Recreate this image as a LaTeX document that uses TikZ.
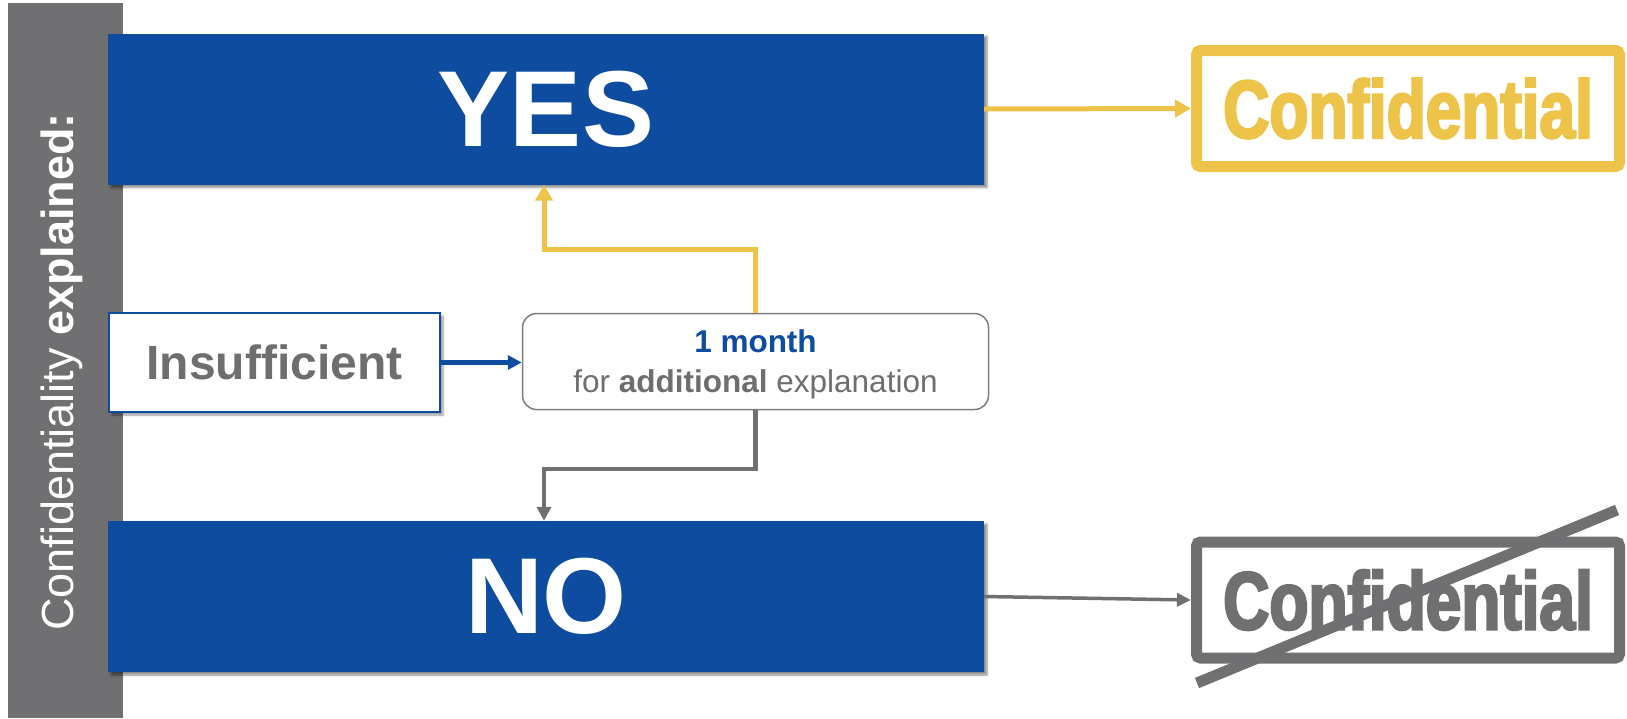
\documentclass[tikz,border=0pt]{standalone}
\usepackage{fontspec}
\usepackage{graphicx}
\setmainfont{Liberation Sans}
\newfontfamily\stampfont{Liberation Sans}[FakeStretch=0.78, BoldFeatures={FakeBold=3}]
\usetikzlibrary{arrows.meta,shadows.blur}
\definecolor{cblue}{RGB}{13,76,159}
\definecolor{cyellow}{RGB}{237,195,74}
\definecolor{cgray}{RGB}{112,112,114}
\definecolor{tgray}{RGB}{110,110,112}
\definecolor{lgray}{RGB}{125,125,128}
\begin{document}
\begin{tikzpicture}[x=1pt,y=-1pt,
  bluebox/.style={fill=cblue, draw=none, minimum width=876pt, minimum height=151pt, inner sep=0pt,
    text=white, font=\fontsize{108}{108}\selectfont\bfseries,
    blur shadow={shadow xshift=3pt, shadow yshift=-3pt, shadow blur steps=6, shadow opacity=45}},
  insbox/.style={fill=white, draw=cblue, line width=2pt, minimum width=331pt, minimum height=99pt, inner sep=0pt,
    text=tgray, font=\fontsize{48}{48}\selectfont\bfseries,
    blur shadow={shadow xshift=3pt, shadow yshift=-3pt, shadow blur steps=6, shadow opacity=40}},
  midbox/.style={fill=white, draw=lgray, line width=1.5pt, rounded corners=14pt, minimum width=466pt, minimum height=96pt,
    inner sep=0pt, align=center, text=tgray, font=\fontsize{31.5}{40}\selectfont},
  stamp/.style={line width=11pt, rounded corners=4pt, minimum width=423pt, minimum height=116pt, inner sep=0pt,
    font=\stampfont\bfseries\fontsize{82}{82}\selectfont},
  yarrow/.style={draw=cyellow, line width=5pt, -{Triangle[length=16pt,width=17pt]}},
  barrow/.style={draw=cblue, line width=4.5pt, -{Triangle[length=14pt,width=14pt]}},
  garrow/.style={draw=cgray, line width=4.5pt, -{Triangle[length=14pt,width=14pt]}},
  garrowthin/.style={draw=cgray, line width=3.5pt, -{Triangle[length=14pt,width=13pt]}}
]
\useasboundingbox (0,0) rectangle (1627,718);

% sidebar
\node[fill=cgray, minimum width=115pt, minimum height=715pt, inner sep=0pt] (side) at (65.5,360.5) {};
\node[rotate=90, text=white, font=\fontsize{45}{45}\selectfont] (sidetxt) at (62,372)
  {Confidentiality \textbf{explained:}};

% main boxes
\node[bluebox] (yes) at (546,109) {YES};
\node[bluebox] (no) at (546,596.5) {NO};
\node[insbox] (ins) at (274.5,362.5) {Insufficient};
\node[midbox] (mid) at (755.5,361.5) {};
\node[align=center, text=tgray, font=\fontsize{31.5}{40}\selectfont, inner sep=0pt] (midtxt) at (755.5,364.5)
  {\textcolor{cblue}{\bfseries 1 month}\\for \textbf{additional} explanation};

% stamps
\node[stamp, draw=cyellow, text=cyellow] (conf1) at (1408,108.5) {Confidential};
\node[stamp, draw=cgray, text=cgray] (conf2) at (1408,600) {Confidential};
\coordinate (s1) at (1197,683);
\coordinate (s2) at (1617,510);
\draw[cgray, line width=11pt] (s1) -- (s2);

% connectors
\coordinate (ya) at (544,249);
\coordinate (ga) at (544,469);
\draw[yarrow] (yes.east) -- (conf1.west);
\draw[yarrow] (mid.north) |- (ya) -- (ya |- yes.south);
\draw[barrow] (ins.east) -- (ins.east -| mid.west);
\draw[garrow] (mid.south) |- (ga) -- (ga |- no.north);
\draw[garrowthin] (no.east) -- (conf2.west);
\end{tikzpicture}
\end{document}
